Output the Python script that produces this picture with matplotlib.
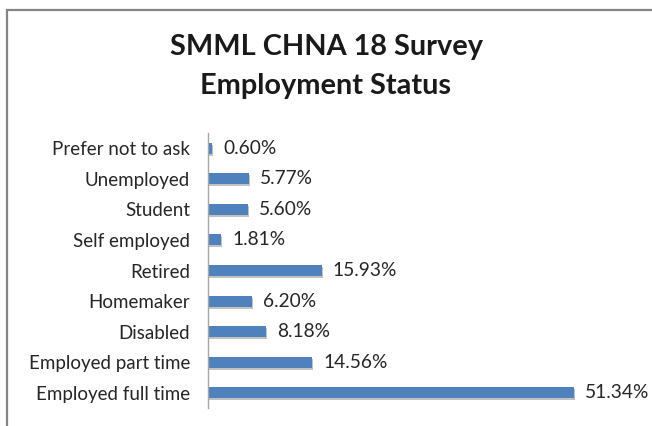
import matplotlib.pyplot as plt
import matplotlib.patheffects as pe
from matplotlib.patches import Rectangle

categories = ['Employed full time', 'Employed part time', 'Disabled', 'Homemaker',
              'Retired', 'Self employed', 'Student', 'Unemployed', 'Prefer not to ask']
values = [51.34, 14.56, 8.18, 6.20, 15.93, 1.81, 5.60, 5.77, 0.60]

plt.rcParams['font.family'] = ['Lato', 'DejaVu Sans']

fig = plt.figure(figsize=(6.52, 4.26), dpi=100)
fig.patch.set_facecolor('white')

# chart frame (only top and left edges show in the crop)
fig.add_artist(Rectangle((7 / 652, -0.1), 1.2, 1 - 10 / 426 + 0.1, transform=fig.transFigure,
                         fill=False, edgecolor='#858585', linewidth=1.6))

ax = fig.add_axes([208 / 652, 1 - 408 / 426, 428 / 652, 275 / 426])
bars = ax.barh(range(len(categories)), values, height=0.36, color='#4F81BD',
               path_effects=[pe.SimplePatchShadow(offset=(0.8, -1.4), shadow_rgbFace='#9a9a9a', alpha=0.6),
                             pe.Normal()])

for i, v in enumerate(values):
    ax.annotate(f'{v:.2f}%', (v, i), xytext=(8, 0), textcoords='offset points',
                va='center', ha='left', fontsize=13.8, color='#262626')

ax.set_xlim(0, 60)
ax.set_ylim(-0.5, len(categories) - 0.5)
ax.set_yticks(range(len(categories)))
ax.set_yticklabels(categories, fontsize=13.5, color='#262626')
ax.tick_params(axis='y', length=0, pad=13)
ax.set_xticks([])
for s in ['top', 'right', 'bottom']:
    ax.spines[s].set_visible(False)
ax.spines['left'].set_color('#a6a6a6')
ax.spines['left'].set_linewidth(1.0)

fig.text(0.5, 1 - 47 / 426, 'SMML CHNA 18 Survey', ha='center', va='center',
         fontsize=20.8, fontweight='bold', color='#1a1a1a')
fig.text(0.5, 1 - 86 / 426, 'Employment Status', ha='center', va='center',
         fontsize=20.8, fontweight='bold', color='#1a1a1a')

fig.savefig('out.png', dpi=100, facecolor='white')
